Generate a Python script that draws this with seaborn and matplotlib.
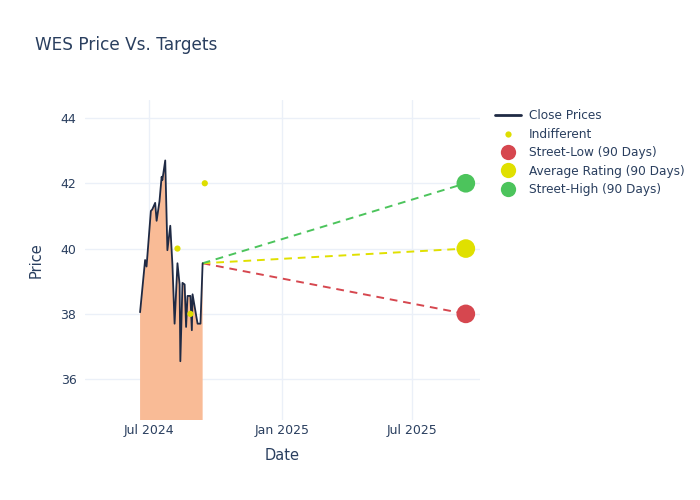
import pandas as pd
import matplotlib
matplotlib.use("Agg")
import matplotlib.pyplot as plt
import matplotlib.dates as mdates
from matplotlib.lines import Line2D
import seaborn as sns

# Cours de clôture
dates = ["2024-06-18", "2024-06-25", "2024-06-27", "2024-07-03", "2024-07-05",
         "2024-07-09", "2024-07-11", "2024-07-15", "2024-07-18", "2024-07-19",
         "2024-07-23", "2024-07-26", "2024-07-30", "2024-08-02", "2024-08-05",
         "2024-08-09", "2024-08-12", "2024-08-13", "2024-08-16", "2024-08-19",
         "2024-08-21", "2024-08-23", "2024-08-27", "2024-08-29", "2024-08-30",
         "2024-09-04", "2024-09-06", "2024-09-10", "2024-09-13"]
close_prices = [38.05, 39.65, 39.45, 41.15, 41.2,
                41.4, 40.85, 41.45, 42.2, 42.1,
                42.7, 39.95, 40.7, 39.5, 37.7,
                39.55, 38.9, 36.55, 38.95, 38.9,
                37.6, 38.55, 38.55, 37.5, 38.6,
                37.95, 37.7, 37.7, 39.55]

# Notes "Indifferent"
indiff_dates = ["2024-08-09", "2024-08-27", "2024-09-16"]
indiff_values = [40, 38, 42]

# Objectifs (90 jours)
target_date = "2025-09-14"
target_labels = ["Street-Low (90 Days)", "Average Rating (90 Days)", "Street-High (90 Days)"]
target_values = [38, 40, 42]
target_colors = ["#d6474f", "#e0e000", "#4cc45c"]

text_color = "#2a3f5f"
grid_color = "#ebf0f8"

df = pd.DataFrame({"Date": pd.to_datetime(dates), "Close": close_prices})
ind = pd.DataFrame({"Date": pd.to_datetime(indiff_dates), "Value": indiff_values})
tgt = pd.DataFrame({"Date": pd.to_datetime([target_date] * 3), "Value": target_values,
                    "Label": target_labels})

sns.set_style("white")
plt.rcParams["font.family"] = ["DejaVu Sans"]

fig = plt.figure(figsize=(7, 5), dpi=100)
ax = fig.add_axes([0.121, 0.16, 0.565, 0.64])

# Aire sous le cours
ax.fill_between(df["Date"], 0, df["Close"], color="#f9bb96", linewidth=0, zorder=1)
sns.lineplot(data=df, x="Date", y="Close", color="#1f2a44", linewidth=1.3, ax=ax, zorder=3)

# Lignes pointillées vers les objectifs
last_date = df["Date"].iloc[-1]
last_close = df["Close"].iloc[-1]
for val, col in zip(target_values, target_colors):
    ax.plot([last_date, pd.to_datetime(target_date)], [last_close, val],
            linestyle=(0, (4, 3)), color=col, linewidth=1.4, zorder=2)

sns.scatterplot(data=ind, x="Date", y="Value", color="#dede00", s=20,
                edgecolor="none", ax=ax, zorder=4)
sns.scatterplot(data=tgt, x="Date", y="Value", hue="Label", palette=target_colors,
                s=180, edgecolor="none", ax=ax, legend=False, zorder=5)

ax.set_xlim(pd.Timestamp("2024-04-02"), pd.Timestamp("2025-10-04"))
ax.set_ylim(34.75, 44.55)
ax.set_yticks([36, 38, 40, 42, 44])
ax.xaxis.set_major_locator(mdates.MonthLocator(bymonth=[1, 7]))
ax.xaxis.set_major_formatter(mdates.DateFormatter("%b %Y"))

ax.grid(True, color=grid_color, linewidth=1)
ax.set_axisbelow(True)
for s in ax.spines.values():
    s.set_visible(False)
ax.tick_params(length=0, labelsize=9, colors=text_color)
ax.tick_params(axis="x", pad=3)
ax.tick_params(axis="y", pad=6)
ax.set_xlabel("Date", fontsize=10.5, color=text_color, labelpad=8)
ax.set_ylabel("Price", fontsize=10.5, color=text_color, labelpad=12)

fig.text(0.05, 0.9, "WES Price Vs. Targets", fontsize=12.2, color=text_color)

handles = [
    Line2D([0], [0], color="#1f2a44", linewidth=2, label="Close Prices"),
    Line2D([0], [0], marker="o", color="none", markerfacecolor="#dede00",
           markeredgecolor="none", markersize=4.5, label="Indifferent"),
]
for lab, col in zip(target_labels, target_colors):
    handles.append(Line2D([0], [0], marker="o", color="none", markerfacecolor=col,
                          markeredgecolor="none", markersize=11, label=lab))
leg = fig.legend(handles=handles, loc="upper left", bbox_to_anchor=(0.70, 0.791),
                 frameon=False, fontsize=8.7, handlelength=2.2, labelspacing=0.45,
                 handletextpad=0.6, borderaxespad=0)
for t in leg.get_texts():
    t.set_color(text_color)

plt.savefig("out.png", dpi=100)
